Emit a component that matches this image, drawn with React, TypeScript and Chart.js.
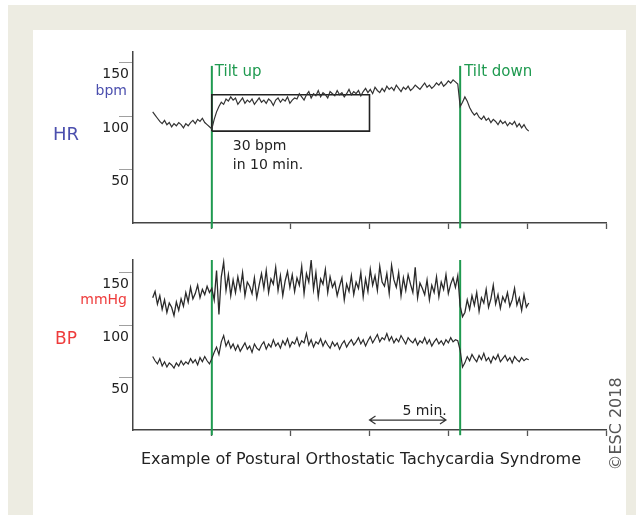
import React, { useEffect, useRef } from "react";
import { Chart, registerables } from "chart.js";

Chart.register(...registerables);

const FONT = "'DejaVu Sans', Verdana, sans-serif";
const GREEN = "#1f9a50";
const BLUE = "#4b4fae";
const RED = "#ee3b3b";
const TRACE = "#2a2a2a";

// time axis (minutes)
const STEP_MIN = 0.15;
const TRACE_START_MIN = 1.25;
const TILT_UP_MIN = 5;
const TILT_DOWN_MIN = 20.75;
const xTicks = [5, 10, 15, 20, 25, 30];
const yTicks = [50, 100, 150];

// Heart rate (bpm)
const hrBefore = [104, 101, 98, 95, 93, 96, 92, 94, 90, 93, 91, 94, 92, 89, 93, 91, 94, 96, 93, 97, 95, 98, 94, 92, 90];
const hrTilted = [
  88, 97, 104, 109, 113, 111, 116, 114, 118, 115, 117,
  111, 114, 117, 112, 115, 113, 116, 111, 114, 117, 113, 115, 112, 116, 114, 110, 115, 117, 113, 116, 114, 118, 112, 115, 117,
  116, 121, 118, 115, 120, 123, 117, 121, 119, 124, 118, 122, 120, 117, 123, 121, 119, 124, 120, 122, 118, 121, 125, 120, 123,
  121, 124, 119, 123, 126, 122, 125, 121, 127, 124, 122, 126, 123, 128, 125, 127, 124, 129, 126, 123, 127, 125, 128, 124, 126,
  129, 127, 125, 128, 131, 127, 129, 126, 128, 131, 129, 132, 128, 130, 133, 131, 134, 132, 130,
];
const hrAfter = [109, 113, 118, 114, 108, 104, 101, 103, 99, 97, 100, 96, 98, 94, 97, 95, 92, 96, 93, 95, 91, 94, 92, 95, 90, 93, 89, 92, 88, 86];

// Systolic BP (mmHg)
const sysBefore = [126, 132, 120, 128, 115, 124, 112, 121, 117, 109, 122, 114, 125, 118, 131, 122, 136, 125, 130, 138, 126, 134, 129, 137, 131];
const sysTilted = [
  135, 124, 152, 110, 146, 160, 133, 148, 128, 143, 131,
  146, 134, 150, 128, 141, 137, 130, 145, 126, 138, 149, 135, 152, 131, 144, 139, 155, 133, 147, 128, 142, 151, 136, 148, 132,
  145, 138, 156, 130, 149, 141, 162, 134, 150, 127, 144, 139, 153, 131, 146, 136, 141, 128, 137, 145, 124, 139, 132, 147, 129,
  141, 135, 150, 127, 144, 132, 153, 138, 147, 133, 156, 141, 137, 149, 130, 157, 143, 136, 150, 128, 145, 133, 148, 139, 131,
  155, 126, 140, 135, 129, 143, 124, 138, 131, 146, 127, 141, 134, 148, 130, 139, 145, 136, 147,
];
const sysAfter = [118, 108, 112, 124, 115, 128, 119, 131, 113, 126, 121, 134, 117, 125, 138, 120, 129, 116, 127, 122, 131, 118, 124, 135, 119, 126, 114, 129, 117, 121];

// Diastolic BP (mmHg)
const diaBefore = [70, 66, 63, 68, 61, 65, 60, 64, 62, 59, 64, 61, 66, 62, 65, 63, 68, 64, 67, 62, 69, 65, 70, 66, 63];
const diaTilted = [
  68, 74, 79, 72, 84, 90, 80, 85, 78, 82, 76,
  81, 75, 79, 83, 77, 80, 74, 82, 78, 76, 81, 84, 77, 82, 79, 86, 80, 83, 78, 85, 81, 87, 79, 84, 82,
  88, 80, 85, 83, 92, 81, 86, 79, 84, 82, 87, 80, 85, 81, 78, 84, 80, 83, 77, 82, 85, 79, 83, 86, 81,
  84, 88, 82, 86, 80, 85, 89, 83, 87, 91, 84, 88, 86, 92, 85, 89, 83, 87, 84, 90, 86, 82, 88, 85, 83,
  87, 81, 85, 83, 88, 82, 86, 80, 84, 87, 82, 85, 81, 86, 83, 88, 84, 86, 85,
];
const diaAfter = [76, 60, 64, 70, 66, 72, 68, 65, 71, 67, 73, 66, 69, 64, 70, 67, 72, 65, 68, 71, 66, 69, 64, 70, 67, 65, 69, 66, 68, 67];

// "30 bpm in 10 min." box
const boxTimes = [5, 15];
const boxValues = [86, 120];
// tilt marker extents (value units)
const hrMarkerRange = [-5, 147];
const bpMarkerRange = [-5, 162];
// "5 min." arrow
const arrowTimes = [15, 19.85];
const arrowLevel = 9.5;

type Pt = { x: number; y: number };

function toPoints(segments: [number, number[]][]): Pt[] {
  const pts: Pt[] = [];
  for (const [start, vals] of segments) {
    vals.forEach((v, i) => pts.push({ x: start + i * STEP_MIN, y: v }));
  }
  return pts;
}

function markerLine(t: number, range: number[]): Pt[] {
  return [
    { x: t, y: range[0] },
    { x: t, y: range[1] },
  ];
}

function traceDataset(data: Pt[], color = TRACE, width = 1) {
  return {
    data,
    borderColor: color,
    borderWidth: width,
    pointRadius: 0,
    tension: 0,
    fill: false,
    clip: false as any,
  };
}

function makeOptions(yMax: number, padTop: number, xHeight: number): any {
  return {
    responsive: false,
    animation: false,
    events: [],
    layout: { padding: { left: 0, right: 30, top: padTop, bottom: 0 } },
    plugins: {
      legend: { display: false },
      tooltip: { enabled: false },
      title: { display: false },
    },
    scales: {
      x: {
        type: "linear",
        min: 0,
        max: 30,
        afterBuildTicks: (s: any) => {
          s.ticks = xTicks.map((v) => ({ value: v }));
        },
        afterFit: (s: any) => {
          s.height = xHeight;
        },
        ticks: { display: false },
        grid: {
          drawOnChartArea: false,
          drawTicks: true,
          tickLength: 6,
          tickColor: "#555",
          tickWidth: 1.3,
        },
        border: { display: true, color: "#444", width: 1.5 },
      },
      y: {
        type: "linear",
        min: 0,
        max: yMax,
        afterBuildTicks: (s: any) => {
          s.ticks = yTicks.map((v) => ({ value: v }));
        },
        afterFit: (s: any) => {
          s.width = 133;
        },
        ticks: {
          font: { family: FONT, size: 14 },
          color: "#222",
          padding: -10,
          labelOffset: 12,
        },
        grid: {
          drawOnChartArea: false,
          drawTicks: true,
          tickLength: 14,
          tickColor: "#a0a0a0",
          tickWidth: 1,
        },
        border: { display: true, color: "#444", width: 1.5 },
      },
    },
  };
}

const hrAnnotations = {
  id: "hrAnnotations",
  afterDraw(chart: any) {
    const { ctx } = chart;
    const x = chart.scales.x;
    ctx.save();
    ctx.textBaseline = "middle";
    ctx.textAlign = "left";
    ctx.fillStyle = BLUE;
    ctx.font = `18px ${FONT}`;
    ctx.fillText("HR", 53, 135);
    ctx.font = `14px ${FONT}`;
    ctx.textAlign = "right";
    ctx.fillText("bpm", 127, 91);
    ctx.textAlign = "left";
    ctx.fillStyle = GREEN;
    ctx.font = `15px ${FONT}`;
    ctx.fillText("Tilt up", x.getPixelForValue(TILT_UP_MIN) + 3, 72);
    ctx.fillText("Tilt down", x.getPixelForValue(TILT_DOWN_MIN) + 4, 72);
    ctx.fillStyle = "#222";
    ctx.font = `14px ${FONT}`;
    const bx = x.getPixelForValue(boxTimes[0]) + 21;
    ctx.fillText("30 bpm", bx, 146);
    ctx.fillText("in 10 min.", bx, 165);
    ctx.restore();
  },
};

const bpAnnotations = {
  id: "bpAnnotations",
  afterDraw(chart: any) {
    const { ctx } = chart;
    const x = chart.scales.x;
    const y = chart.scales.y;
    ctx.save();
    ctx.textBaseline = "middle";
    ctx.fillStyle = RED;
    ctx.font = `14px ${FONT}`;
    ctx.textAlign = "right";
    ctx.fillText("mmHg", 127, 55);
    ctx.textAlign = "left";
    ctx.font = `17px ${FONT}`;
    ctx.fillText("BP", 55, 95);

    // 5 min arrow
    const ax0 = x.getPixelForValue(arrowTimes[0]);
    const ax1 = x.getPixelForValue(arrowTimes[1]);
    const ay = y.getPixelForValue(arrowLevel);
    ctx.strokeStyle = "#333";
    ctx.lineWidth = 1.2;
    ctx.beginPath();
    ctx.moveTo(ax0, ay);
    ctx.lineTo(ax1, ay);
    ctx.moveTo(ax0 + 6, ay - 4);
    ctx.lineTo(ax0, ay);
    ctx.lineTo(ax0 + 6, ay + 4);
    ctx.moveTo(ax1 - 6, ay - 4);
    ctx.lineTo(ax1, ay);
    ctx.lineTo(ax1 - 6, ay + 4);
    ctx.stroke();
    ctx.fillStyle = "#222";
    ctx.font = `14px ${FONT}`;
    ctx.fillText("5 min.", ax0 + 33, ay - 9);

    // title
    ctx.textAlign = "center";
    ctx.font = `16px ${FONT}`;
    ctx.fillStyle = "#222";
    ctx.fillText("Example of Postural Orthostatic Tachycardia Syndrome", 361, 215);

    // copyright
    ctx.translate(617, 179);
    ctx.rotate(-Math.PI / 2);
    ctx.fillStyle = "#555";
    ctx.font = `16px ${FONT}`;
    ctx.fillText("\u00A9ESC 2018", 0, 0);
    ctx.restore();
  },
};

export default function App() {
  const hrRef = useRef<HTMLCanvasElement>(null);
  const bpRef = useRef<HTMLCanvasElement>(null);

  useEffect(() => {
    const hrPts = toPoints([
      [TRACE_START_MIN, hrBefore],
      [TILT_UP_MIN, hrTilted],
      [TILT_DOWN_MIN, hrAfter],
    ]);
    const sysPts = toPoints([
      [TRACE_START_MIN, sysBefore],
      [TILT_UP_MIN, sysTilted],
      [TILT_DOWN_MIN, sysAfter],
    ]);
    const diaPts = toPoints([
      [TRACE_START_MIN, diaBefore],
      [TILT_UP_MIN, diaTilted],
      [TILT_DOWN_MIN, diaAfter],
    ]);
    const boxPts: Pt[] = [
      { x: boxTimes[0], y: boxValues[0] },
      { x: boxTimes[0], y: boxValues[1] },
      { x: boxTimes[1], y: boxValues[1] },
      { x: boxTimes[1], y: boxValues[0] },
      { x: boxTimes[0], y: boxValues[0] },
    ];

    const hrChart = new Chart(hrRef.current as HTMLCanvasElement, {
      type: "line",
      data: {
        datasets: [
          traceDataset(hrPts, "#333", 1.2),
          traceDataset(boxPts, "#222", 1.6),
          traceDataset(markerLine(TILT_UP_MIN, hrMarkerRange), GREEN, 2),
          traceDataset(markerLine(TILT_DOWN_MIN, hrMarkerRange), GREEN, 2),
        ] as any,
      },
      options: makeOptions(160, 52, 22),
      plugins: [hrAnnotations],
    });

    const bpChart = new Chart(bpRef.current as HTMLCanvasElement, {
      type: "line",
      data: {
        datasets: [
          traceDataset(sysPts, TRACE, 1.3),
          traceDataset(diaPts, TRACE, 1.2),
          traceDataset(markerLine(TILT_UP_MIN, bpMarkerRange), GREEN, 2),
          traceDataset(markerLine(TILT_DOWN_MIN, bpMarkerRange), GREEN, 2),
        ] as any,
      },
      options: makeOptions(162, 15, 85),
      plugins: [bpAnnotations],
    });

    return () => {
      hrChart.destroy();
      bpChart.destroy();
    };
  }, []);

  return (
    <div
      style={{
        position: "fixed",
        left: 0,
        top: 0,
        width: 636,
        height: 515,
        background: "#ffffff",
        overflow: "hidden",
      }}
    >
      <div style={{ position: "absolute", left: 8, top: 5, width: 628, height: 510, background: "#edece2" }} />
      <div style={{ position: "absolute", left: 33, top: 30, width: 593, height: 485, background: "#ffffff" }} />
      <canvas ref={hrRef} width={636} height={245} style={{ position: "absolute", left: 0, top: 0 }} />
      <canvas ref={bpRef} width={636} height={270} style={{ position: "absolute", left: 0, top: 245 }} />
    </div>
  );
}
